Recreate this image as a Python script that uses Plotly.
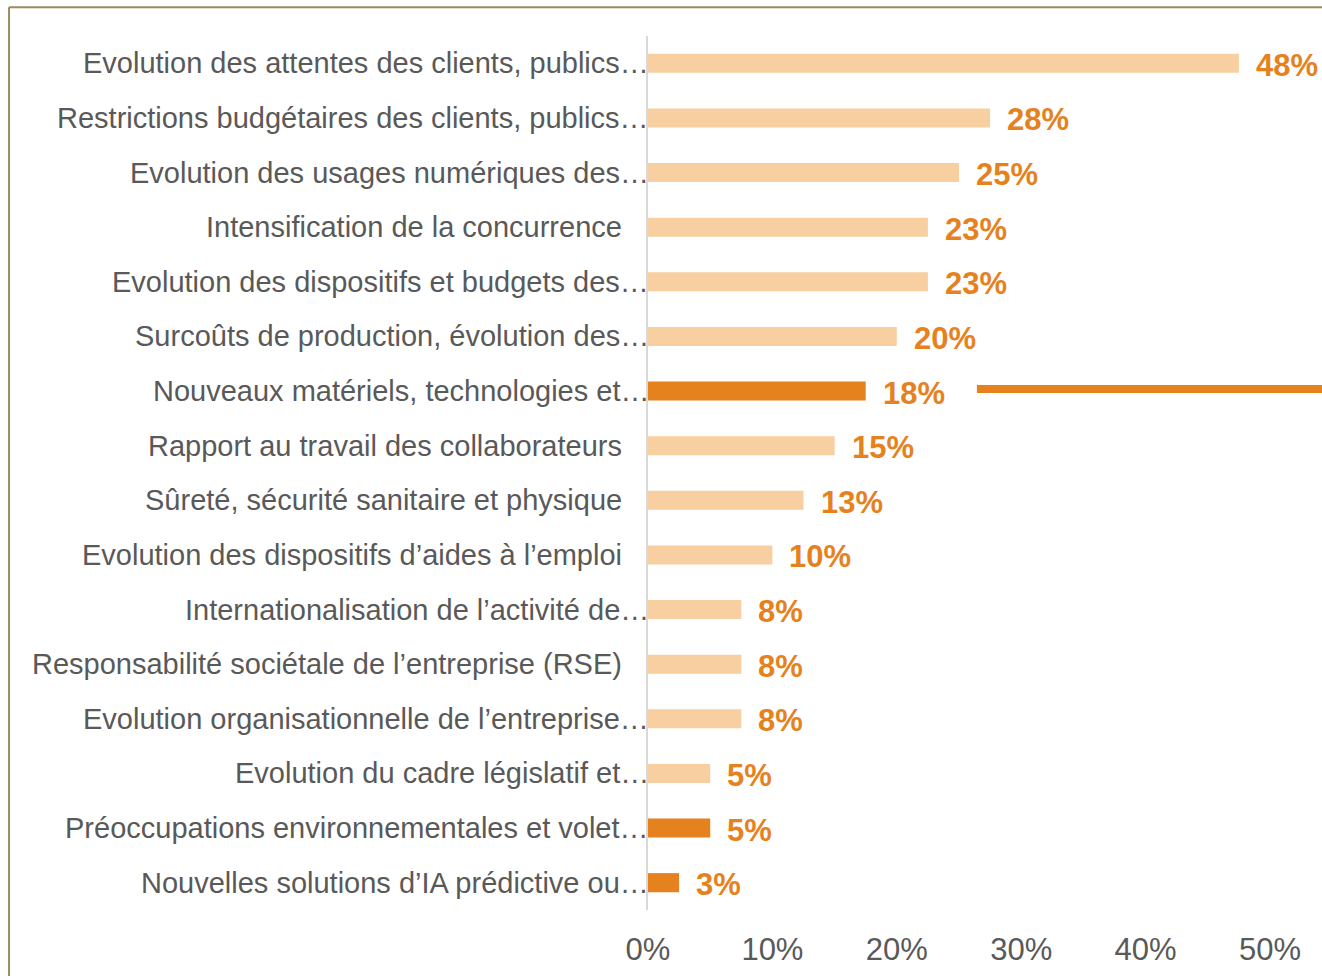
import plotly.graph_objects as go

categories = [
    "Evolution des attentes des clients, publics…",
    "Restrictions budgétaires des clients, publics…",
    "Evolution des usages numériques des…",
    "Intensification de la concurrence",
    "Evolution des dispositifs et budgets des…",
    "Surcoûts de production, évolution des…",
    "Nouveaux matériels, technologies et…",
    "Rapport au travail des collaborateurs",
    "Sûreté, sécurité sanitaire et physique",
    "Evolution des dispositifs d’aides à l’emploi",
    "Internationalisation de l’activité de…",
    "Responsabilité sociétale de l’entreprise (RSE)",
    "Evolution organisationnelle de l’entreprise…",
    "Evolution du cadre législatif et…",
    "Préoccupations environnementales et volet…",
    "Nouvelles solutions d’IA prédictive ou…",
]
values = [0.475, 0.275, 0.25, 0.225, 0.225, 0.20, 0.175, 0.15, 0.125, 0.10,
          0.075, 0.075, 0.075, 0.05, 0.05, 0.025]
value_labels = ["48%", "28%", "25%", "23%", "23%", "20%", "18%", "15%", "13%", "10%",
                "8%", "8%", "8%", "5%", "5%", "3%"]
highlighted = [False, False, False, False, False, False, True, False, False, False,
               False, False, False, False, True, True]
x_tickvals = [0, 0.1, 0.2, 0.3, 0.4, 0.5]
x_ticktext = ["0%", "10%", "20%", "30%", "40%", "50%"]

LIGHT = "#F8CFA0"
DARK = "#E6821E"
TEXT = "#595959"
FONT = "Liberation Sans, Arial, sans-serif"

fig = go.Figure()
fig.add_trace(go.Bar(
    x=values,
    y=categories,
    orientation="h",
    marker=dict(color=[DARK if h else LIGHT for h in highlighted], line=dict(width=0)),
    width=0.35,
    hoverinfo="skip",
))

annotations = []
for cat, v, lab in zip(categories, values, value_labels):
    annotations.append(dict(
        x=v, y=cat, xref="x", yref="y", text=lab, showarrow=False,
        xanchor="left", yanchor="middle", xshift=15, yshift=-2,
        font=dict(family=FONT, size=31, color=DARK, weight="bold"),
    ))
    truncated = cat.endswith("…")
    annotations.append(dict(
        x=0, y=cat, xref="paper", yref="y", text=cat, showarrow=False,
        xanchor="right", yanchor="middle", xshift=(3 if truncated else -24),
        font=dict(family=FONT, size=29, color=TEXT),
    ))

shapes = [
    # frame (left and top border)
    dict(type="line", xref="paper", yref="paper", x0=-0.948, x1=-0.948, y0=-0.2, y1=1.0328,
         line=dict(color="#9C8B5E", width=2)),
    dict(type="line", xref="paper", yref="paper", x0=-0.948, x1=1.2, y0=1.0328, y1=1.0328,
         line=dict(color="#9C8B5E", width=2)),
    # decorative highlight line
    dict(type="line", xref="paper", yref="y", x0=0.488, x1=1.01,
         y0=categories[6], y1=categories[6], y0shift=0.037, y1shift=0.037,
         line=dict(color=DARK, width=8)),
]

fig.update_layout(
    width=1322, height=976,
    margin=dict(l=648, r=0, t=36, b=66),
    paper_bgcolor="white", plot_bgcolor="white",
    showlegend=False,
    bargap=0.65,
    annotations=annotations,
    shapes=shapes,
    xaxis=dict(
        range=[0, 0.5418], tickvals=x_tickvals, ticktext=x_ticktext,
        showgrid=False, zeroline=False, showline=False,
        tickfont=dict(family=FONT, size=31, color=TEXT),
        ticks="", ticklabelstandoff=18,
    ),
    yaxis=dict(
        categoryorder="array", categoryarray=categories[::-1],
        showticklabels=False, showgrid=False, zeroline=False,
        showline=True, linecolor="#D9D9D9", linewidth=2, ticks="",
        range=[-0.5, len(categories) - 0.5],
    ),
)

fig.write_html(
    "out.html",
    config={"displayModeBar": False},
    post_script="document.body.style.margin='0';document.body.style.overflow='hidden';",
)
